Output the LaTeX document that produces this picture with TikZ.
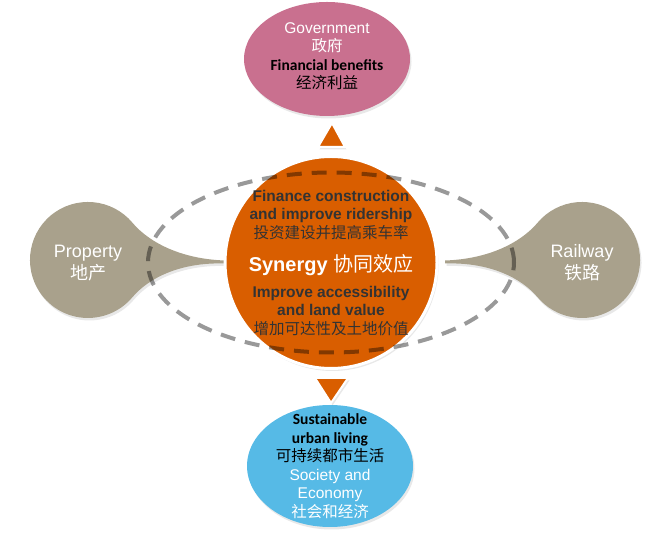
\documentclass[tikz,border=0pt]{standalone}
\usepackage{fontspec}
\setmainfont{Liberation Sans}
\newfontfamily\calibri{Carlito}
\newfontfamily\cjk{Noto Sans CJK SC}
\usetikzlibrary{shapes.geometric,shadows}

\definecolor{govpink}{RGB}{201,112,143}
\definecolor{synorange}{RGB}{217,94,0}
\definecolor{teargray}{RGB}{169,161,140}
\definecolor{livblue}{RGB}{86,186,230}
\definecolor{txtdark}{RGB}{51,51,51}

\tikzset{
	softshadow/.style={drop shadow={opacity=0.18, shadow xshift=1.5pt, shadow yshift=-2.5pt}},
	bubble/.style={ellipse, inner sep=0pt, softshadow},
	tear/.style={fill=teargray, softshadow},
	marker/.style={fill=synorange, draw=white, line width=2pt, line join=miter, softshadow},
	ringdash/.style={draw=black, draw opacity=0.4, line width=4pt, dash pattern=on 15pt off 10pt},
	txt/.style={align=center, inner sep=0pt, font=\fontsize{15.5}{18.5}\selectfont},
}

\begin{document}
\begin{tikzpicture}[x=1pt, y=1pt]
\useasboundingbox (0,0) rectangle (671,537);

% property and railway drops
\foreach \s in {1,-1} {
	\begin{scope}[shift={(335,0)}, xscale=\s]
		\path[tear] (-110,276.5) .. controls (-155,278) and (-186.5,295.2) .. (-202.6,314.3)
			arc[start angle=40, end angle=320, radius=58]
			.. controls (-186.5,258.8) and (-155,275) .. (-110,273.5) -- cycle;
	\end{scope}
}

% three bubbles
\node[bubble, fill=govpink, minimum width=166pt, minimum height=114pt] (gov) at (327,478) {};
\node[bubble, fill=livblue, minimum width=166pt, minimum height=122pt] (liv) at (330,71) {};
\node[circle, fill=synorange, draw=white, line width=3pt, minimum size=212pt, inner sep=0pt, softshadow] (hub) at (331,274.5) {};

% arrows up and down
\path[marker] (332,414) -- (345,390) -- (318,390) -- cycle;
\path[marker] (315,159) -- (348,159) -- (331,134) -- cycle;

% dashed ring
\draw[ringdash] (hub.center) ellipse [x radius=183, y radius=90];

% texts
\node[txt] (govtxt) at (gov.center) [yshift=3pt] {{\color{white}Government}\\{\color{white}\cjk 政府}\\{\calibri\bfseries Financial benefits}\\{\cjk 经济利益}};
\node[txt, text=txtdark, font=\fontsize{15.5}{18.5}\selectfont\bfseries] (fintxt) at (331,322) {Finance construction\\and improve ridership\\{\cjk\mdseries 投资建设并提高乘车率}};
\node[text=white, inner sep=0pt, font=\fontsize{20}{24}\selectfont\bfseries] (syn) at (331,272) {Synergy {\cjk\mdseries 协同效应}};
\node[txt, text=txtdark, font=\fontsize{15.5}{18.5}\selectfont\bfseries] (acctxt) at (331,226) {Improve accessibility\\and land value\\{\cjk\mdseries 增加可达性及土地价值}};
\node[txt] (livtxt) at (liv.center) {{\calibri\bfseries Sustainable}\\{\calibri\bfseries urban living}\\{\cjk 可持续都市生活}\\{\color{white}Society and}\\{\color{white}Economy}\\{\color{white}\cjk 社会和经济}};
\node[txt, text=white, font=\fontsize{18}{22}\selectfont] (proptxt) at (88,274) {Property\\{\cjk 地产}};
\node[txt, text=white, font=\fontsize{18}{22}\selectfont] (railtxt) at (582,274) {Railway\\{\cjk 铁路}};

\end{tikzpicture}
\end{document}
